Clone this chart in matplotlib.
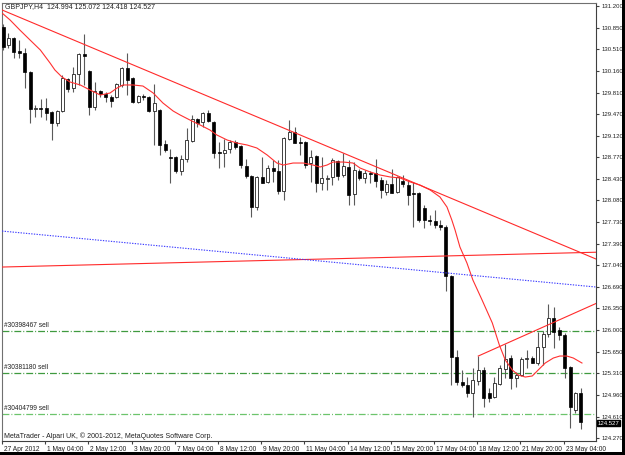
import matplotlib
matplotlib.use('Agg')
import matplotlib.pyplot as plt
import matplotlib.transforms as mtransforms
from matplotlib.patches import Rectangle
import numpy as np

plt.rcParams['font.family'] = ['Liberation Sans', 'DejaVu Sans']

# GBPJPY H4 candles (open, high, low, close)
opens = [130.863, 130.574, 130.686, 130.478, 130.446, 130.141, 129.548, 129.564, 129.564, 129.499,
         129.323, 129.515, 130.029, 129.884, 130.109, 130.430, 130.157, 129.580, 129.836, 129.788,
         129.740, 129.740, 129.933, 130.205, 130.045, 129.660, 129.756, 129.740, 129.515, 129.531,
         128.986, 128.778, 128.778, 128.553, 128.745, 129.034, 129.387, 129.339, 129.483, 129.339,
         128.858, 128.842, 128.906, 129.018, 128.954, 128.633, 128.473, 127.976, 128.457, 128.377,
         128.601, 128.553, 128.232, 129.066, 129.179, 129.018, 129.018, 128.681, 128.794, 128.360,
         128.425, 128.457, 128.713, 128.489, 128.617, 128.184, 128.553, 128.441, 128.521, 128.521,
         128.409, 128.216, 128.344, 128.216, 128.393, 128.328, 128.200, 128.200, 127.960, 127.767,
         127.751, 127.687, 127.655, 126.869, 125.569, 125.168, 125.120, 124.992, 125.184, 125.361,
         124.992, 124.928, 125.136, 125.377, 125.553, 125.232, 125.281, 125.537, 125.553, 125.473,
         125.730, 125.938, 126.195, 126.002, 125.922, 125.409, 124.719, 124.994]
highs = [130.911, 130.767, 130.702, 130.654, 130.526, 130.157, 129.612, 129.708, 129.724, 129.515,
         129.531, 130.093, 130.045, 130.221, 130.446, 130.751, 130.173, 129.981, 129.852, 129.820,
         129.772, 129.965, 130.221, 130.446, 130.061, 129.772, 129.788, 129.756, 129.949, 129.548,
         129.050, 128.906, 128.794, 128.810, 129.243, 129.451, 129.403, 129.499, 129.531, 129.355,
         129.018, 129.066, 129.050, 129.050, 128.970, 128.745, 128.489, 128.473, 128.778, 128.649,
         128.729, 128.729, 129.098, 129.371, 129.259, 129.098, 129.034, 128.890, 128.810, 128.778,
         128.489, 128.762, 128.729, 128.842, 128.729, 128.697, 128.585, 128.569, 128.553, 128.745,
         128.457, 128.409, 128.585, 128.473, 128.489, 128.409, 128.377, 128.216, 128.008, 127.847,
         127.927, 127.767, 127.687, 126.885, 125.682, 125.361, 125.248, 125.393, 125.585, 125.409,
         125.072, 125.248, 125.441, 125.778, 125.601, 125.329, 125.569, 125.682, 125.585, 125.970,
         125.986, 126.420, 126.371, 126.051, 125.954, 125.425, 125.008, 125.072]
lows = [130.494, 130.526, 130.366, 130.366, 129.884, 129.323, 129.419, 129.419, 129.371, 129.050,
        129.275, 129.499, 129.820, 129.820, 129.933, 129.933, 129.451, 129.531, 129.740, 129.660,
        129.580, 129.724, 129.900, 129.772, 129.644, 129.644, 129.692, 129.499, 128.970, 128.810,
        128.858, 128.360, 128.521, 128.489, 128.697, 129.018, 129.259, 129.259, 129.339, 128.762,
        128.601, 128.617, 128.842, 128.906, 128.601, 128.441, 127.815, 127.927, 128.360, 128.360,
        128.377, 128.184, 128.088, 129.050, 129.002, 128.810, 128.601, 128.377, 128.216, 128.248,
        128.248, 128.328, 128.409, 128.457, 128.008, 128.008, 128.409, 128.360, 128.360, 128.296,
        128.120, 128.168, 128.200, 128.200, 128.296, 128.008, 127.655, 127.735, 127.639, 127.687,
        127.639, 127.607, 126.628, 125.120, 125.120, 125.088, 124.928, 124.607, 125.120, 124.767,
        124.848, 124.912, 125.120, 125.232, 125.056, 125.088, 125.265, 125.393, 125.473, 125.441,
        125.441, 125.890, 125.714, 125.842, 125.232, 124.430, 124.671, 124.418]
closes = [130.542, 130.686, 130.462, 130.446, 130.141, 129.548, 129.564, 129.548, 129.483, 129.323,
          129.515, 130.045, 129.868, 130.109, 130.430, 130.398, 129.580, 129.836, 129.788, 129.740,
          129.676, 129.949, 130.205, 130.013, 129.660, 129.756, 129.740, 129.515, 129.644, 128.970,
          128.890, 128.762, 128.553, 128.745, 129.050, 129.387, 129.323, 129.483, 129.355, 128.842,
          128.842, 128.890, 129.018, 128.938, 128.649, 128.473, 127.976, 128.457, 128.360, 128.601,
          128.553, 128.232, 129.082, 129.179, 129.002, 129.002, 128.649, 128.778, 128.360, 128.441,
          128.441, 128.729, 128.473, 128.633, 128.168, 128.569, 128.441, 128.521, 128.505, 128.393,
          128.248, 128.344, 128.200, 128.457, 128.344, 128.168, 128.184, 127.767, 127.767, 127.751,
          127.687, 127.655, 126.869, 125.569, 125.168, 125.120, 124.992, 125.200, 125.361, 124.912,
          124.912, 125.152, 125.393, 125.537, 125.232, 125.281, 125.537, 125.553, 125.473, 125.730,
          125.938, 126.195, 125.970, 125.922, 125.393, 124.767, 124.992, 124.527]

# moving average, sampled along the curve (bar index, price)
ma_idx = [-0.2, 1.3, 3.1, 5.0, 6.9, 8.7, 9.6, 10.9, 12.4, 14.3, 16.1, 18.0, 19.8, 21.1, 22.2,
          24.1, 25.9, 27.8, 29.6, 31.5, 32.8, 34.6, 36.5, 38.3, 39.6, 41.5, 43.3, 45.2, 47.0,
          48.9, 50.7, 51.9, 53.7, 55.6, 57.4, 58.7, 60.0, 61.1, 63.0, 64.8, 66.1, 68.0, 69.8,
          71.7, 73.5, 75.4, 77.2, 79.1, 80.9, 82.2, 83.1, 83.7, 84.6, 85.9, 87.0, 88.7, 90.6,
          91.9, 93.0, 94.3, 95.4, 96.7, 98.0, 99.1, 100.4, 101.9, 103.1, 104.4, 105.6, 107.2]
ma_val = [131.088, 130.975, 130.815, 130.654, 130.494, 130.285, 130.173, 130.061, 129.981, 129.933,
          129.852, 129.772, 129.804, 129.884, 129.933, 129.933, 129.916, 129.804, 129.644, 129.515,
          129.451, 129.371, 129.291, 129.211, 129.130, 129.050, 129.002, 128.970, 128.922, 128.810,
          128.681, 128.649, 128.681, 128.681, 128.649, 128.617, 128.649, 128.697, 128.697, 128.681,
          128.601, 128.537, 128.489, 128.457, 128.441, 128.377, 128.328, 128.248, 128.136, 127.976,
          127.767, 127.607, 127.334, 127.077, 126.805, 126.484, 126.115, 125.762, 125.521, 125.361,
          125.281, 125.248, 125.265, 125.361, 125.473, 125.553, 125.585, 125.585, 125.553, 125.473]

# trend lines: two anchor points each (bar index, price)
trend_down = [(0, 131.129), (100, 127.497)]
trend_flat = [(0, 127.013), (100, 127.229)]
trend_blue = [(0, 127.588), (100, 126.772)]
trend_up = [(88, 125.585), (100, 126.049)]

# open orders
order_names = ['#30398467 sell', '#30381180 sell', '#30404799 sell']
order_prices = [125.986, 125.313, 124.655]
order_colors = ['#3f9a3f', '#3f9a3f', '#6cc46c']

price_ticks = [131.200, 130.850, 130.510, 130.160, 129.810, 129.470, 129.120, 128.770, 128.430,
               128.080, 127.730, 127.390, 127.040, 126.690, 126.350, 126.000, 125.650, 125.310,
               124.960, 124.610, 124.270]
date_labels = ['27 Apr 2012', '1 May 04:00', '2 May 12:00', '3 May 20:00', '7 May 04:00',
               '8 May 12:00', '9 May 20:00', '11 May 04:00', '14 May 12:00', '15 May 20:00',
               '17 May 04:00', '18 May 12:00', '21 May 20:00', '23 May 04:00']

fig = plt.figure(figsize=(6.25, 4.55), dpi=100)
fig.patch.set_facecolor('white')
ax = fig.add_axes([2 / 625, 14 / 455, 594 / 625, 438 / 455])
x0, x1 = -0.2, 109.8
ax.set_xlim(x0, x1)
ax.set_ylim(124.222, 131.248)

o = np.array(opens)
h = np.array(highs)
l = np.array(lows)
c = np.array(closes)
idx = np.arange(len(o))
up = c >= o

ax.vlines(idx, l, h, color='#5a5a5a', linewidth=0.8, zorder=2)
ax.bar(idx[~up], (o - c)[~up], bottom=c[~up], width=0.55, color='black',
       edgecolor='black', linewidth=0.5, zorder=3)
ax.bar(idx[up], (c - o)[up], bottom=o[up], width=0.55, color='white',
       edgecolor='#222222', linewidth=0.6, zorder=3)

ax.plot(ma_idx, ma_val, color='#ff3030', linewidth=0.8, zorder=4)


def ray(pts, start=None):
    (a, pa), (b, pb) = pts
    k = (pb - pa) / (b - a)
    xs = np.array([x0 if start is None else start, x1])
    return xs, pa + k * (xs - a)


for pts, start in [(trend_down, None), (trend_flat, None), (trend_up, trend_up[0][0])]:
    xs, ys = ray(pts, start)
    ax.plot(xs, ys, color='#ff2a2a', linewidth=0.8, zorder=4)
xs, ys = ray(trend_blue)
ax.plot(xs, ys, color='#3a3aff', linewidth=0.8, linestyle=(0, (1.2, 1.2)), zorder=4)

for name, p, col in zip(order_names, order_prices, order_colors):
    ax.axhline(p, color=col, linewidth=0.9, linestyle=(0, (5.5, 1.6, 0.8, 1.6)), zorder=1)
    ax.text(0.2, p + 0.025, name, fontsize=4.8, color='#222222', va='bottom', ha='left')

for side in ['left', 'top']:
    ax.spines[side].set_color('#707070')
for side in ['right', 'bottom']:
    ax.spines[side].set_color('#404040')
for s in ax.spines.values():
    s.set_linewidth(0.8)

ax.yaxis.tick_right()
ax.set_yticks(price_ticks)
ax.set_yticklabels(['%.3f' % v for v in price_ticks])
ax.tick_params(axis='y', direction='out', length=2.5, pad=1.2, labelsize=4.3,
               colors='#404040', labelcolor='#202020')

ax.set_xticks([8 * k - 0.2 for k in range(len(date_labels))])
ax.set_xticklabels(date_labels)
ax.tick_params(axis='x', direction='out', length=2.5, pad=1, labelsize=4.8,
               colors='#404040', labelcolor='#202020')
offset = mtransforms.ScaledTranslation(2 / 100, 0, fig.dpi_scale_trans)
for lbl in ax.get_xticklabels():
    lbl.set_ha('left')
    lbl.set_transform(lbl.get_transform() + offset)

# current price box
ax.text(1.003, closes[-1] - 0.02, '%.3f' % closes[-1], transform=ax.get_yaxis_transform(),
        fontsize=4.3, color='white', va='center', ha='left',
        bbox=dict(boxstyle='square,pad=0.12', facecolor='black', edgecolor='black'))

fig.text(5 / 625, 1 - 7 / 455, 'GBPJPY,H4  124.994 125.072 124.418 124.527',
         fontsize=5, color='#202020', va='center', ha='left')
fig.text(4 / 625, 1 - 436 / 455, 'MetaTrader - Alpari UK, \u00a9 2001-2012, MetaQuotes Software Corp.',
         fontsize=5, color='#202020', va='center', ha='left')

# black window border on the right and bottom
fig.add_artist(Rectangle((622 / 625, 0), 3 / 625, 1, transform=fig.transFigure,
                         facecolor='black', edgecolor='none'))
fig.add_artist(Rectangle((0, 0), 1, 3 / 455, transform=fig.transFigure,
                         facecolor='black', edgecolor='none'))

fig.savefig('out.png', dpi=100)
